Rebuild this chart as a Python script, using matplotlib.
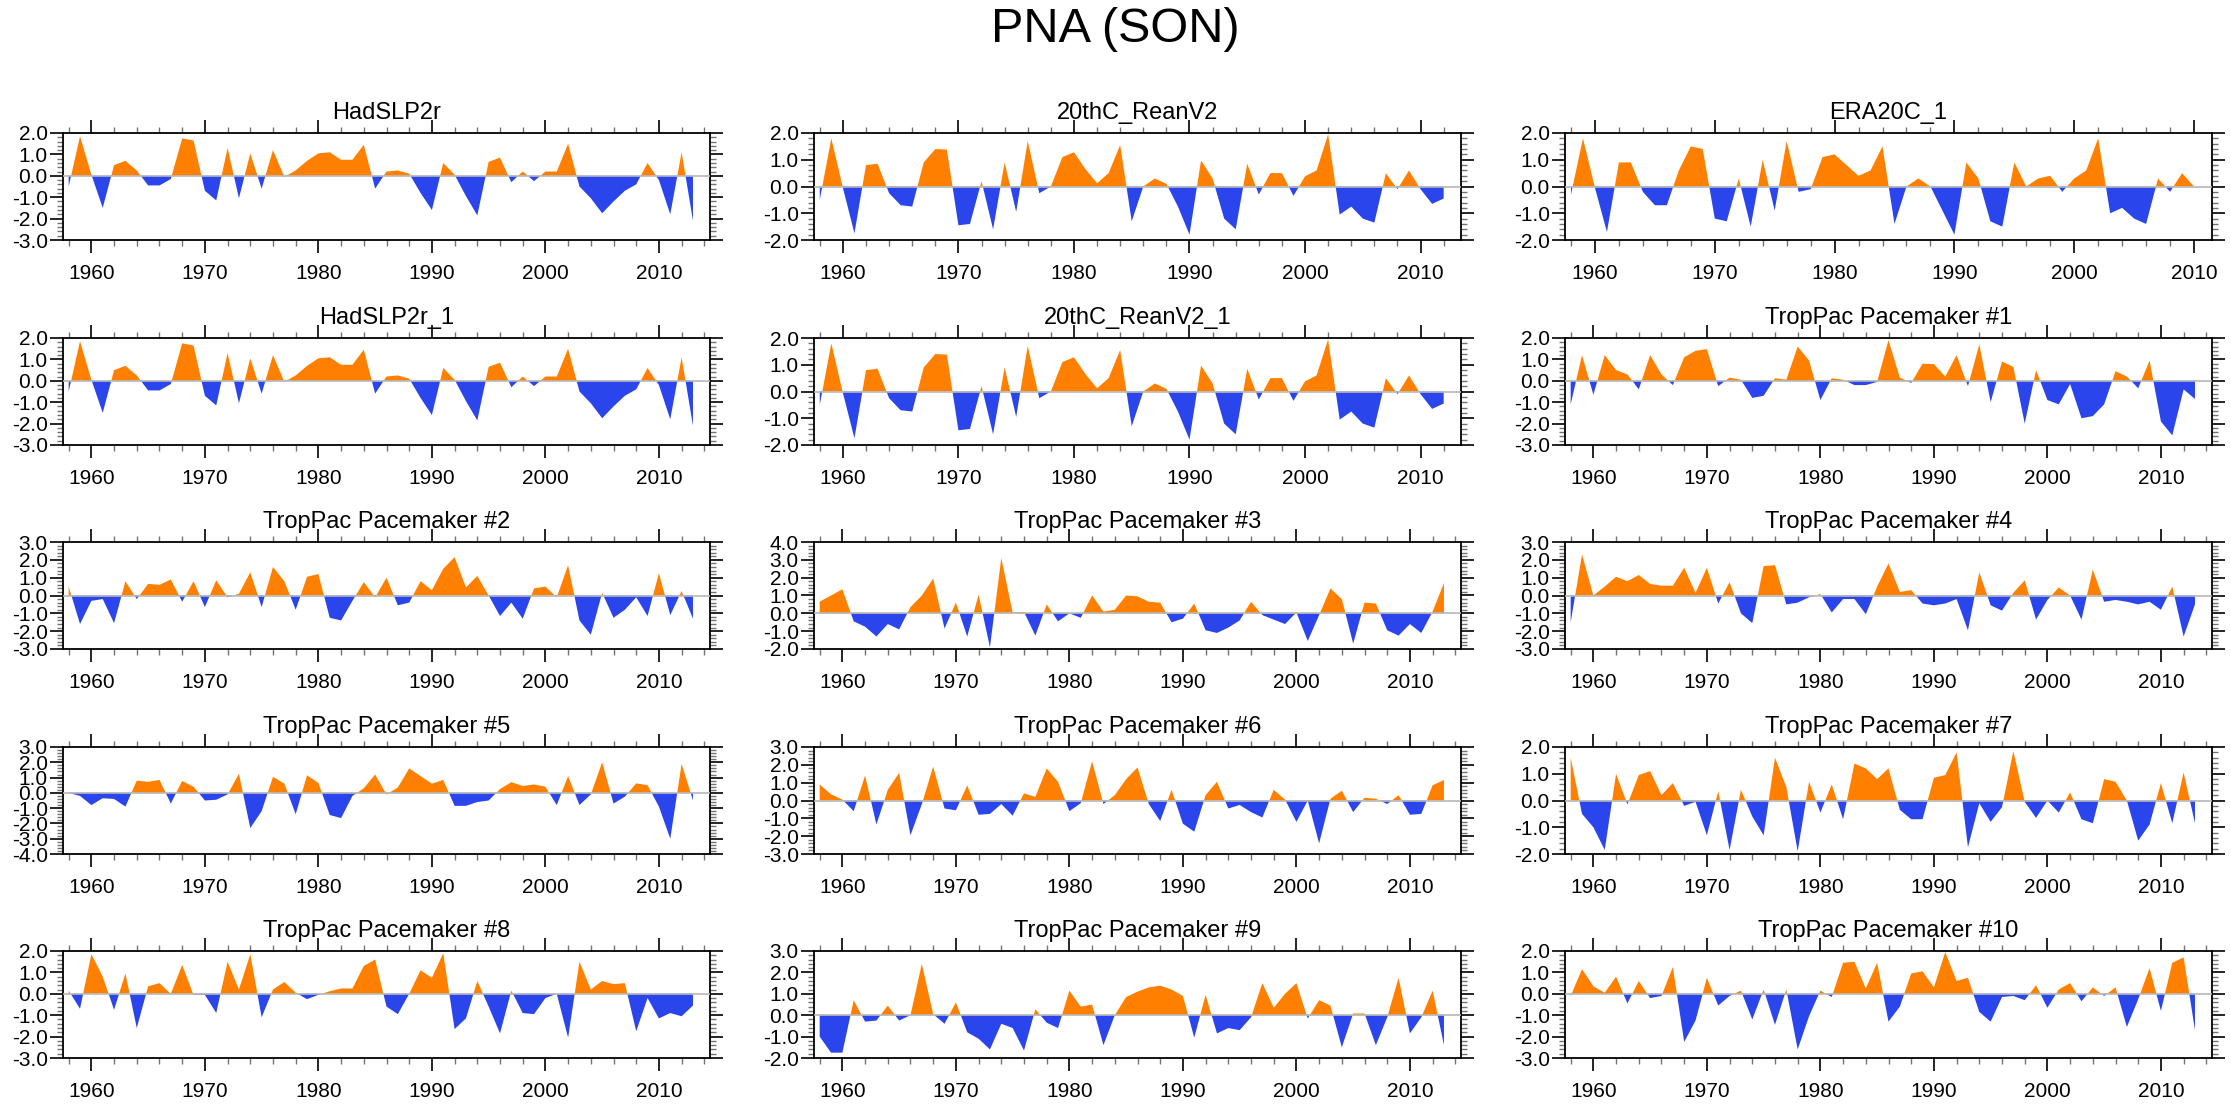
import numpy as np
import matplotlib
matplotlib.use("Agg")
import matplotlib.pyplot as plt
from matplotlib.ticker import MultipleLocator, FormatStrFormatter

plt.rcParams['font.family'] = ['Liberation Sans', 'DejaVu Sans']

# valeurs (indice PNA, automne SON)
years_full = np.arange(1958, 2014)   # 1958-2013
years_20c = np.arange(1958, 2013)    # 1958-2012
years_era = np.arange(1958, 2011)    # 1958-2010

hadslp = [-0.5, 1.85, 0.05, -1.5, 0.5, 0.7, 0.25, -0.45, -0.45, -0.15,
          1.75, 1.65, -0.7, -1.15, 1.3, -1.05, 1.05, -0.6, 1.2, -0.05,
          0.25, 0.7, 1.05, 1.1, 0.75, 0.75, 1.45, -0.6, 0.2, 0.25,
          0.1, -0.8, -1.6, 0.6, 0.05, -0.95, -1.85, 0.65, 0.85, -0.3,
          0.2, -0.25, 0.2, 0.2, 1.5, -0.5, -1.05, -1.75, -1.2, -0.7,
          -0.4, 0.6, -0.2, -1.8, 1.1, -2.1]

reanv2 = [-0.5, 1.8, -0.05, -1.75, 0.8, 0.85, -0.25, -0.7, -0.75, 0.9,
          1.4, 1.38, -1.45, -1.4, 0.2, -1.6, 0.9, -0.95, 1.7, -0.25,
          0.0, 1.1, 1.28, 0.65, 0.12, 0.5, 1.55, -1.3, 0.0, 0.3,
          0.1, -0.75, -1.8, 0.97, 0.3, -1.2, -1.6, 0.85, -0.3, 0.5,
          0.5, -0.35, 0.38, 0.6, 1.95, -1.05, -0.75, -1.2, -1.35, 0.5,
          -0.1, 0.6, -0.1, -0.65, -0.45]

era20c = [-0.3, 1.8, -0.05, -1.7, 0.9, 0.9, -0.2, -0.7, -0.7, 0.6,
          1.5, 1.4, -1.2, -1.3, 0.3, -1.5, 1.0, -0.9, 1.7, -0.2,
          -0.1, 1.1, 1.2, 0.8, 0.4, 0.6, 1.5, -1.4, 0.0, 0.3,
          0.0, -0.9, -1.8, 0.9, 0.3, -1.3, -1.5, 0.9, 0.0, 0.3,
          0.4, -0.2, 0.3, 0.6, 1.8, -1.0, -0.8, -1.2, -1.4, 0.3,
          -0.2, 0.5, 0.0]

pm1 = [-1.1, 1.2, -0.65, 1.2, 0.5, 0.3, -0.4, 1.2, 0.3, -0.2,
       1.1, 1.4, 1.48, -0.25, 0.15, 0.05, -0.8, -0.7, 0.12, 0.05,
       1.6, 0.95, -0.9, 0.12, 0.05, -0.2, -0.2, -0.05, 1.9, 0.15,
       -0.1, 0.8, 0.78, 0.2, 1.2, -0.25, 1.7, -1.0, 0.9, 0.65,
       -2.0, 0.5, -0.9, -1.1, -0.15, -1.75, -1.65, -1.1, 0.45, 0.2,
       -0.35, 0.95, -1.9, -2.55, -0.4, -0.85]

pm2 = [0.5, -1.6, -0.3, -0.2, -1.55, 0.8, -0.2, 0.65, 0.6, 0.9,
       -0.35, 0.8, -0.65, 0.85, -0.1, 0.1, 1.3, -0.65, 1.6, 0.8,
       -0.8, 1.05, 1.2, -1.25, -1.4, -0.3, 0.75, -0.1, 1.0, -0.55,
       -0.4, 0.8, 0.3, 1.5, 2.15, 0.45, 1.1, 0.0, -1.15, -0.4,
       -1.3, 0.4, 0.5, -0.1, 1.7, -1.4, -2.2, 0.15, -1.25, -0.8,
       -0.1, -1.15, 1.25, -1.1, 0.25, -1.3]

pm3 = [0.65, 1.0, 1.35, -0.45, -0.75, -1.3, -0.6, -0.9, 0.35, 1.0,
       1.95, -0.85, 0.6, -1.3, 1.05, -1.9, 3.1, 0.05, 0.08, -1.25,
       0.5, -0.45, 0.0, -0.25, 1.0, 0.1, 0.2, 1.0, 0.95, 0.65,
       0.6, -0.5, -0.3, 0.55, -0.95, -1.1, -0.8, -0.4, 0.65, -0.1,
       -0.35, -0.6, 0.05, -1.55, -0.1, 1.4, 0.8, -1.7, 0.6, 0.55,
       -0.95, -1.25, -0.6, -1.1, 0.1, 1.7]

pm4 = [-1.5, 2.3, 0.0, 0.5, 1.05, 0.8, 1.15, 0.65, 0.55, 0.55,
       1.55, 0.15, 1.55, -0.45, 0.75, -1.0, -1.55, 1.65, 1.7, -0.5,
       -0.4, -0.1, 0.08, -0.95, -0.2, -0.2, -1.05, 0.5, 1.8, 0.2,
       0.3, -0.45, -0.55, -0.45, -0.2, -1.95, 1.3, -0.55, -0.85, 0.15,
       0.85, -1.35, -0.25, 0.45, 0.0, -1.35, 1.45, -0.35, -0.25, -0.35,
       -0.5, -0.35, -0.8, 0.5, -2.3, -0.5]

pm5 = [0.0, -0.2, -0.8, -0.35, -0.4, -0.9, 0.8, 0.72, 0.85, -0.7,
       0.78, 0.4, -0.5, -0.45, -0.1, 1.25, -2.3, -1.2, 1.05, 0.6,
       -1.4, 1.15, 0.65, -1.45, -1.65, -0.2, 0.3, 1.2, -0.1, 0.35,
       1.6, 1.1, 0.6, 0.85, -0.85, -0.85, -0.6, -0.5, 0.25, 0.7,
       0.45, 0.55, 0.4, -0.8, 1.1, -0.8, -0.1, 2.0, -0.7, -0.25,
       0.62, 0.5, -0.9, -3.0, 1.9, -0.5]

pm6 = [0.9, 0.35, 0.05, -0.6, 1.4, -1.35, 0.6, 1.55, -1.95, -0.2,
       1.9, -0.45, -0.55, 0.85, -0.8, -0.75, -0.2, -0.85, 0.4, 0.2,
       1.8, 1.05, -0.6, -0.15, 2.2, -0.2, 0.3, 1.2, 1.85, -0.2,
       -1.15, 0.6, -1.3, -1.75, 0.3, 1.05, -0.45, -0.25, -0.65, -0.95,
       0.6, 0.05, -1.2, 0.0, -2.4, 0.1, 0.55, -0.65, 0.15, 0.1,
       -0.2, 0.3, -0.8, -0.75, 0.85, 1.15]

pm7 = [1.6, -0.5, -1.0, -1.85, 1.0, -0.15, 0.95, 1.1, 0.2, 0.65,
       -0.2, -0.05, -1.3, 0.35, -1.85, 0.4, -0.6, -1.3, 1.6, 0.5,
       -1.9, 0.7, -0.45, 0.6, -0.7, 1.38, 1.2, 0.8, 1.2, -0.35,
       -0.7, -0.7, 0.85, 0.95, 1.8, -1.75, -0.1, -0.8, -0.25, 1.85,
       -0.05, -0.65, 0.0, -0.45, 0.3, -0.7, -0.85, 0.8, 0.7, 0.0,
       -1.5, -0.9, 0.65, -0.85, 1.05, -0.85]

pm8 = [0.15, -0.7, 1.85, 0.8, -0.75, 0.95, -1.6, 0.35, 0.5, 0.0,
       1.35, -0.05, -0.05, -0.9, 1.5, 0.2, 1.85, -1.1, 0.2, 0.55,
       0.05, -0.25, -0.05, 0.12, 0.25, 0.25, 1.3, 1.6, -0.6, -0.95,
       0.0, 1.1, 0.75, 1.9, -1.65, -1.15, 0.6, -0.6, -1.85, 0.15,
       -0.9, -0.95, -0.2, 0.0, -2.05, 1.5, 0.2, 0.6, 0.45, 0.5,
       -1.75, -0.2, -1.15, -0.9, -1.05, -0.55]

pm9 = [-1.0, -1.75, -1.75, 0.7, -0.3, -0.25, 0.45, -0.25, 0.0, 2.4,
       0.05, -0.4, 0.6, -0.8, -1.1, -1.6, -0.4, -0.6, -1.65, 0.28,
       -0.35, -0.6, 1.15, 0.4, 0.5, -1.4, 0.0, 0.85, 1.1, 1.3,
       1.38, 1.2, 0.9, -1.05, 0.95, -0.85, -0.6, -0.7, -0.1, 1.5,
       0.35, 1.0, 1.5, -0.15, 0.7, 0.45, -1.5, 0.08, 0.08, -1.4,
       -0.1, 1.75, -0.85, -0.1, 1.15, -1.4]

pm10 = [-0.1, 1.15, 0.35, 0.05, 0.8, -0.45, 0.6, -0.2, -0.1, 1.25,
        -2.25, -1.25, 0.75, -0.55, -0.1, 0.15, -1.2, 0.2, -1.45, 0.2,
        -2.6, -1.05, 0.15, -0.15, 1.45, 1.5, 0.25, 1.45, -1.3, -0.6,
        0.95, 1.05, 0.3, 1.95, 0.6, 0.75, -0.85, -1.3, -0.15, -0.1,
        -0.3, 0.4, -0.65, 0.2, 0.5, -0.35, 0.3, -0.1, 0.3, -1.55,
        -0.25, 1.2, -0.8, 1.45, 1.7, -1.7]

titles = ["HadSLP2r", "20thC_ReanV2", "ERA20C_1",
          "HadSLP2r_1", "20thC_ReanV2_1", "TropPac Pacemaker #1",
          "TropPac Pacemaker #2", "TropPac Pacemaker #3", "TropPac Pacemaker #4",
          "TropPac Pacemaker #5", "TropPac Pacemaker #6", "TropPac Pacemaker #7",
          "TropPac Pacemaker #8", "TropPac Pacemaker #9", "TropPac Pacemaker #10"]
series = [hadslp, reanv2, era20c,
          hadslp, reanv2, pm1,
          pm2, pm3, pm4,
          pm5, pm6, pm7,
          pm8, pm9, pm10]
yrs = [years_full, years_20c, years_era,
       years_full, years_20c, years_full,
       years_full, years_full, years_full,
       years_full, years_full, years_full,
       years_full, years_full, years_full]
ylims = [(-3, 2), (-2, 2), (-2, 2),
         (-3, 2), (-2, 2), (-3, 2),
         (-3, 3), (-2, 4), (-3, 3),
         (-4, 3), (-3, 3), (-2, 2),
         (-3, 2), (-2, 3), (-3, 2)]

orange = '#FF8000'
blue = '#2A45EC'

W, H = 2230, 1104
fig = plt.figure(figsize=(W/100, H/100), dpi=100)

col_left = [63, 814, 1565]
row_top = [133, 338, 542, 747, 951]
pw, ph = 647, 107

fig.text(0.5, 1 - 30/H, "PNA (SON)", ha='center', va='center', fontsize=35)

for i in range(15):
    r, c = divmod(i, 3)
    ax = fig.add_axes([col_left[c]/W, 1 - (row_top[r]+ph)/H, pw/W, ph/H])
    x = yrs[i]
    y = np.array(series[i])
    ax.fill_between(x, y, 0, where=y >= 0, interpolate=True, color=orange, lw=0)
    ax.fill_between(x, y, 0, where=y <= 0, interpolate=True, color=blue, lw=0)
    ax.axhline(0, color='#b8b8b8', lw=1.2, zorder=3)
    ax.set_xlim(x[0]-0.5, x[-1]+1.5)
    ax.set_ylim(*ylims[i])
    ax.xaxis.set_major_locator(MultipleLocator(10))
    ax.xaxis.set_minor_locator(MultipleLocator(2))
    ax.yaxis.set_major_locator(MultipleLocator(1))
    ax.yaxis.set_minor_locator(MultipleLocator(0.2))
    ax.yaxis.set_major_formatter(FormatStrFormatter('%.1f'))
    ax.tick_params(which='both', direction='out', top=True, right=True)
    ax.tick_params(which='major', length=9.5, width=1.2, labelsize=15)
    ax.tick_params(which='minor', length=4.5, width=1.0, color='0.45')
    ax.tick_params(axis='x', which='major', pad=8)
    ax.tick_params(axis='y', which='major', pad=1.5)
    for s in ax.spines.values():
        s.set_linewidth(1.3)
    ax.set_title(titles[i], fontsize=17, pad=10)

fig.savefig("out.png", dpi=100)
